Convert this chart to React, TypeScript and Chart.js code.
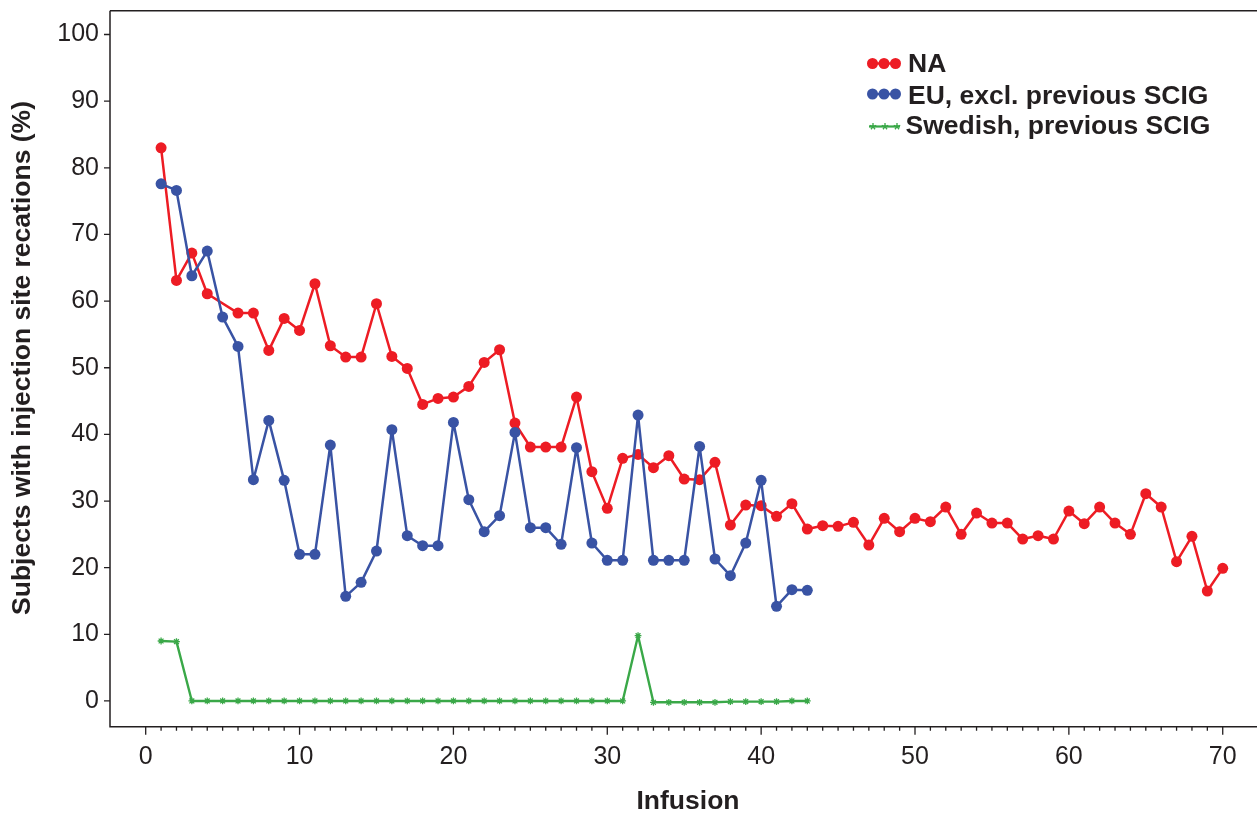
import React, { useEffect, useRef } from "react";
import { Chart, registerables } from "chart.js";

Chart.register(...registerables);

const naInfusions = [
  1, 2, 3, 4, 5, 6, 7, 8, 9, 10, 11, 12, 13, 14, 15, 16, 17, 18, 19, 20,
  21, 22, 23, 24, 25, 26, 27, 28, 29, 30, 31, 32, 33, 34, 35, 36, 37, 38, 39, 40,
  41, 42, 43, 44, 45, 46, 47, 48, 49, 50, 51, 52, 53, 54, 55, 56, 57, 58, 59, 60,
  61, 62, 63, 64, 65, 66, 67, 68, 69, 70,
];
const naValues = [
  83.0, 63.1, 67.2, 61.1, null, 58.2, 58.2, 52.6, 57.4, 55.6,
  62.6, 53.3, 51.6, 51.6, 59.6, 51.7, 49.9, 44.5, 45.4, 45.6,
  47.2, 50.8, 52.7, 41.7, 38.1, 38.1, 38.1, 45.6, 34.4, 28.9,
  36.4, 37.0, 35.0, 36.8, 33.3, 33.2, 35.8, 26.4, 29.4, 29.3,
  27.7, 29.6, 25.8, 26.3, 26.2, 26.8, 23.4, 27.4, 25.4, 27.4,
  26.9, 29.1, 25.0, 28.2, 26.7, 26.7, 24.3, 24.8, 24.3, 28.5,
  26.6, 29.1, 26.7, 25.0, 31.1, 29.1, 20.9, 24.7, 16.5, 19.9,
];

const euInfusions = [
  1, 2, 3, 4, 5, 6, 7, 8, 9, 10, 11, 12, 13, 14, 15, 16, 17, 18, 19, 20,
  21, 22, 23, 24, 25, 26, 27, 28, 29, 30, 31, 32, 33, 34, 35, 36, 37, 38, 39, 40,
  41, 42, 43,
];
const euValues = [
  77.6, 76.6, 63.8, 67.5, 57.6, 53.2, 33.2, 42.1, 33.1, 22.0,
  22.0, 38.4, 15.7, 17.8, 22.5, 40.7, 24.8, 23.3, 23.3, 41.8,
  30.2, 25.4, 27.8, 40.3, 26.0, 26.0, 23.5, 38.0, 23.7, 21.1,
  21.1, 42.9, 21.1, 21.1, 21.1, 38.2, 21.3, 18.8, 23.7, 33.1,
  14.2, 16.7, 16.6,
];

const seInfusions = euInfusions;
const seValues = [
  9.0, 8.9, 0, 0, 0, 0, 0, 0, 0, 0,
  0, 0, 0, 0, 0, 0, 0, 0, 0, 0,
  0, 0, 0, 0, 0, 0, 0, 0, 0, 0,
  0, 9.8, -0.2, -0.2, -0.2, -0.2, -0.2, -0.1, -0.1, -0.1,
  -0.1, 0, 0,
];

const seriesNames = ["NA", "EU, excl. previous SCIG", "Swedish, previous SCIG"];
const xTickValues = [0, 10, 20, 30, 40, 50, 60, 70];
const yTickValues = [0, 10, 20, 30, 40, 50, 60, 70, 80, 90, 100];
const xTitle = "Infusion";
const yTitle = "Subjects with injection site recations (%)";

const RED = "#ED1C24";
const BLUE = "#3953A4";
const GREEN = "#3AA848";
const INK = "#231F20";
const FONT = "'Liberation Sans', Arial, Helvetica, sans-serif";

const toPoints = (xs: number[], ys: (number | null)[]) =>
  xs.map((x, i) => ({ x, y: ys[i] }));

export default function App() {
  const ref = useRef<HTMLCanvasElement | null>(null);

  useEffect(() => {
    if (!ref.current) return;

    const frame = {
      id: "frame",
      beforeDatasetsDraw(chart: any) {
        const c = chart.ctx;
        const { left, top, bottom } = chart.chartArea;
        const right = chart.width;
        const xs = chart.scales.x;
        const ys = chart.scales.y;
        c.save();
        c.strokeStyle = INK;
        c.lineWidth = 1.5;
        c.beginPath();
        c.moveTo(left, top);
        c.lineTo(right, top);
        c.moveTo(left, top);
        c.lineTo(left, bottom);
        c.lineTo(right, bottom);
        c.stroke();
        c.lineWidth = 1.3;
        c.beginPath();
        for (const v of yTickValues) {
          const y = ys.getPixelForValue(v);
          c.moveTo(left - 6, y);
          c.lineTo(left, y);
        }
        for (let v = 0; v <= 70; v++) {
          const x = xs.getPixelForValue(v);
          const len = v % 10 === 0 ? 8 : 4;
          c.moveTo(x, bottom);
          c.lineTo(x, bottom + len);
        }
        c.stroke();
        c.restore();
      },
      afterDraw(chart: any) {
        const c = chart.ctx;
        c.save();
        c.fillStyle = INK;
        c.font = `bold 26.5px ${FONT}`;
        c.textAlign = "center";
        c.textBaseline = "middle";
        c.fillText(xTitle, 688, 802);
        c.save();
        c.translate(23, 358);
        c.rotate(-Math.PI / 2);
        c.fillText(yTitle, 0, 0);
        c.restore();

        // legend
        const rows = [
          { color: RED, y: 63.5, ty: 64.5, tx: 908, kind: "dot" },
          { color: BLUE, y: 94, ty: 96.5, tx: 908, kind: "dot" },
          { color: GREEN, y: 126.5, ty: 127, tx: 905.5, kind: "star" },
        ];
        rows.forEach((r, i) => {
          c.strokeStyle = r.color;
          c.fillStyle = r.color;
          if (r.kind === "dot") {
            c.lineWidth = 2.5;
            c.beginPath();
            c.moveTo(870, r.y);
            c.lineTo(897, r.y);
            c.stroke();
            for (const cx of [872.5, 884, 895.5]) {
              c.beginPath();
              c.arc(cx, r.y, 5.5, 0, Math.PI * 2);
              c.fill();
            }
          } else {
            c.lineWidth = 2.2;
            c.beginPath();
            c.moveTo(869, r.y);
            c.lineTo(900, r.y);
            c.stroke();
            c.lineWidth = 1.3;
            for (const cx of [873, 885, 897]) {
              c.beginPath();
              for (let k = 0; k < 5; k++) {
                const a2 = -Math.PI / 2 + (k * 2 * Math.PI) / 5;
                c.moveTo(cx, r.y);
                c.lineTo(cx + 3.4 * Math.cos(a2), r.y + 3.4 * Math.sin(a2));
              }
              c.stroke();
            }
          }
          c.fillStyle = INK;
          c.font = `bold 26.5px ${FONT}`;
          c.textAlign = "left";
          c.textBaseline = "middle";
          c.fillText(seriesNames[i], r.tx, r.ty);
        });
        c.restore();
      },
    };

    const chart = new Chart(ref.current, {
      type: "line",
      data: {
        datasets: [
          {
            label: seriesNames[1],
            data: toPoints(euInfusions, euValues),
            borderColor: BLUE,
            backgroundColor: BLUE,
            borderWidth: 2.5,
            borderJoinStyle: "round",
            pointRadius: 5.5,
            pointBorderWidth: 0,
            pointBackgroundColor: BLUE,
            tension: 0,
          },
          {
            label: seriesNames[0],
            data: toPoints(naInfusions, naValues),
            borderColor: RED,
            backgroundColor: RED,
            borderWidth: 2.5,
            borderJoinStyle: "round",
            pointRadius: 5.5,
            pointBorderWidth: 0,
            pointBackgroundColor: RED,
            spanGaps: true,
            tension: 0,
          },
          {
            label: seriesNames[2],
            data: toPoints(seInfusions, seValues),
            borderColor: GREEN,
            backgroundColor: GREEN,
            borderWidth: 2.4,
            borderJoinStyle: "round",
            pointStyle: "star",
            pointRadius: 3.4,
            pointBorderWidth: 1.3,
            pointBorderColor: GREEN,
            tension: 0,
          },
        ],
      } as any,
      options: {
        responsive: false,
        animation: false,
        devicePixelRatio: 1,
        layout: { padding: { left: 0, right: 0, top: 10.7, bottom: 0 } },
        plugins: {
          legend: { display: false },
          tooltip: { enabled: false },
          title: { display: false },
        },
        scales: {
          x: {
            type: "linear",
            min: -2.32,
            max: 72.65,
            grid: { display: false, drawTicks: false },
            border: { display: false },
            afterBuildTicks: (s: any) => {
              s.ticks = xTickValues.map((v) => ({ value: v }));
            },
            afterFit: (s: any) => {
              s.height = 815 - 726.7;
              s.paddingLeft = 0;
              s.paddingRight = 0;
            },
            ticks: {
              autoSkip: false,
              maxRotation: 0,
              padding: 15,
              color: INK,
              font: { family: FONT, size: 25 },
            },
          },
          y: {
            type: "linear",
            min: -3.86,
            max: 103.57,
            grid: { display: false, drawTicks: false },
            border: { display: false },
            afterBuildTicks: (s: any) => {
              s.ticks = yTickValues.map((v) => ({ value: v }));
            },
            afterFit: (s: any) => {
              s.width = 110;
              s.paddingTop = 0;
              s.paddingBottom = 0;
            },
            ticks: {
              autoSkip: false,
              padding: 11,
              color: INK,
              font: { family: FONT, size: 25 },
            },
          },
        },
      } as any,
      plugins: [frame],
    });

    return () => chart.destroy();
  }, []);

  return (
    <div
      style={{
        position: "fixed",
        left: 0,
        top: 0,
        width: 1257,
        height: 815,
        overflow: "hidden",
        background: "#fff",
      }}
    >
      <canvas ref={ref} width={1269} height={815} style={{ display: "block" }} />
    </div>
  );
}
